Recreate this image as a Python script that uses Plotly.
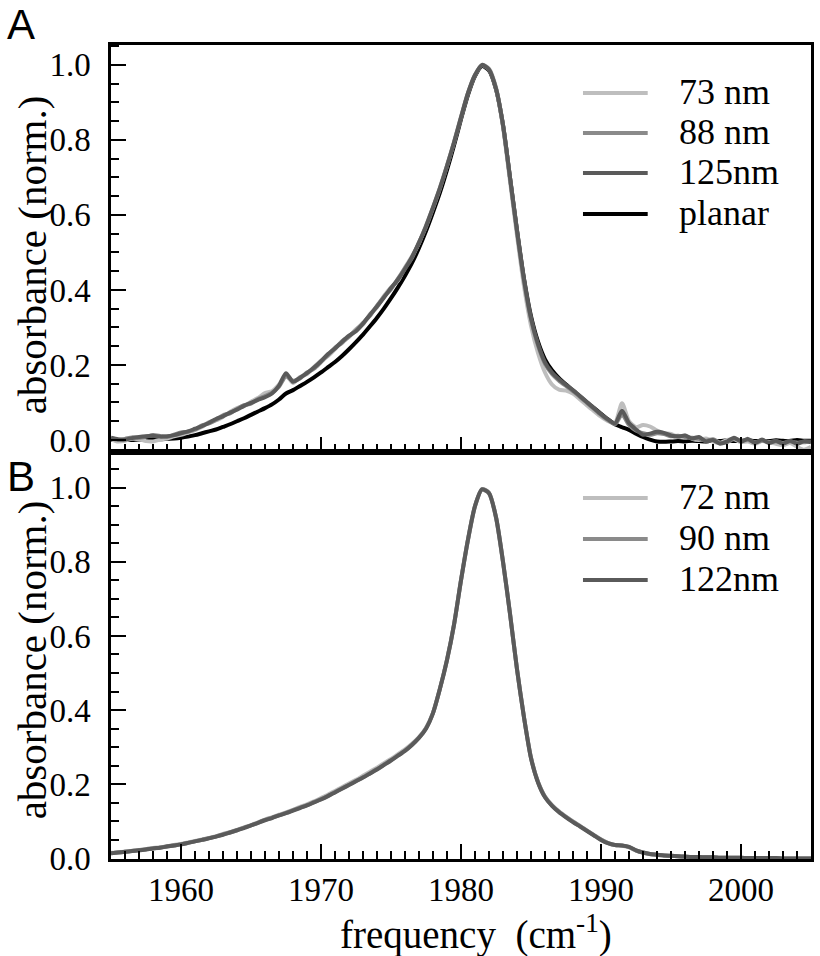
import plotly.graph_objects as go

# ---------------- data ----------------
FREQ = [
    1955.0, 1955.5, 1956.0, 1956.5, 1957.0, 1957.5, 1958.0, 1958.5, 1959.0, 1959.5,
    1960.0, 1960.5, 1961.0, 1961.5, 1962.0, 1962.5, 1963.0, 1963.5, 1964.0, 1964.5,
    1965.0, 1965.5, 1966.0, 1966.5, 1967.0, 1967.5, 1968.0, 1968.5, 1969.0, 1969.5,
    1970.0, 1970.5, 1971.0, 1971.5, 1972.0, 1972.5, 1973.0, 1973.5, 1974.0, 1974.5,
    1975.0, 1975.5, 1976.0, 1976.5, 1977.0, 1977.5, 1978.0, 1978.5, 1979.0, 1979.5,
    1980.0, 1980.5, 1981.0, 1981.5, 1982.0, 1982.5, 1983.0, 1983.5, 1984.0, 1984.5,
    1985.0, 1985.5, 1986.0, 1986.5, 1987.0, 1987.5, 1988.0, 1988.5, 1989.0, 1989.5,
    1990.0, 1990.5, 1991.0, 1991.5, 1992.0, 1992.5, 1993.0, 1993.5, 1994.0, 1994.5,
    1995.0, 1995.5, 1996.0, 1996.5, 1997.0, 1997.5, 1998.0, 1998.5, 1999.0, 1999.5,
    2000.0, 2000.5, 2001.0, 2001.5, 2002.0, 2002.5, 2003.0, 2003.5, 2004.0, 2004.5,
    2005.0,
]

# Panel A
A_PLANAR = [
    0.000, 0.000, 0.000, 0.000, 0.001, 0.001, 0.002, 0.002, 0.003, 0.004,
    0.006, 0.009, 0.013, 0.018, 0.023, 0.028, 0.035, 0.042, 0.050, 0.058,
    0.067, 0.076, 0.085, 0.095, 0.108, 0.124, 0.133, 0.144, 0.155, 0.167,
    0.180, 0.194, 0.208, 0.224, 0.242, 0.261, 0.281, 0.303, 0.326, 0.351,
    0.378, 0.407, 0.438, 0.472, 0.512, 0.557, 0.607, 0.660, 0.720, 0.785,
    0.855, 0.920, 0.970, 0.997, 0.985, 0.935, 0.840, 0.700, 0.560, 0.430,
    0.330, 0.262, 0.215, 0.186, 0.165, 0.148, 0.132, 0.116, 0.100, 0.085,
    0.070, 0.055, 0.042, 0.034, 0.027, 0.017, 0.008, 0.001, -0.004, -0.005,
    -0.004, -0.003, -0.004, -0.002, -0.003, -0.004, -0.002, -0.003, -0.001, -0.003,
    -0.002, -0.001, -0.003, -0.002, -0.003, -0.001, -0.002, -0.003, 0.000, -0.002,
    -0.002,
]
A_73NM = [
    0.002, -0.004, -0.002, 0.003, 0.002, -0.003, -0.004, 0.001, 0.004, 0.010,
    0.014, 0.020, 0.026, 0.035, 0.048, 0.052, 0.062, 0.075, 0.085, 0.090,
    0.102, 0.112, 0.125, 0.130, 0.148, 0.172, 0.152, 0.168, 0.176, 0.195,
    0.212, 0.224, 0.242, 0.264, 0.275, 0.295, 0.308, 0.336, 0.354, 0.384,
    0.407, 0.425, 0.460, 0.490, 0.525, 0.572, 0.620, 0.674, 0.732, 0.795,
    0.862, 0.926, 0.974, 1.000, 0.990, 0.940, 0.835, 0.690, 0.545, 0.410,
    0.305, 0.232, 0.180, 0.148, 0.134, 0.132, 0.124, 0.108, 0.092, 0.077,
    0.062, 0.050, 0.046, 0.098, 0.050, 0.034, 0.040, 0.036, 0.025, 0.018,
    0.016, 0.008, 0.012, 0.003, 0.000, 0.004, -0.004, -0.008, 0.000, 0.002,
    -0.006, -0.004, -0.010, -0.003, -0.006, -0.010, -0.014, -0.008, -0.018, -0.026,
    -0.018,
]
A_88NM = [
    0.004, 0.000, 0.003, 0.007, 0.006, 0.009, 0.013, 0.011, 0.008, 0.014,
    0.020, 0.022, 0.028, 0.039, 0.044, 0.054, 0.066, 0.071, 0.083, 0.093,
    0.097, 0.109, 0.117, 0.126, 0.142, 0.170, 0.158, 0.164, 0.180, 0.190,
    0.208, 0.226, 0.246, 0.259, 0.276, 0.293, 0.312, 0.331, 0.358, 0.382,
    0.402, 0.430, 0.458, 0.486, 0.527, 0.568, 0.618, 0.671, 0.731, 0.792,
    0.859, 0.924, 0.972, 0.999, 0.987, 0.936, 0.838, 0.698, 0.556, 0.425,
    0.322, 0.252, 0.203, 0.176, 0.158, 0.144, 0.130, 0.115, 0.099, 0.083,
    0.067, 0.053, 0.042, 0.068, 0.040, 0.025, 0.018, 0.014, 0.018, 0.016,
    0.010, 0.011, 0.008, 0.006, 0.003, -0.002, 0.002, -0.007, -0.006, 0.004,
    -0.002, 0.000, -0.006, -0.002, -0.005, -0.004, -0.008, -0.004, -0.007, -0.006,
    -0.004,
]
A_125NM = [
    0.006, 0.002, 0.001, 0.005, 0.008, 0.010, 0.011, 0.009, 0.010, 0.013,
    0.018, 0.023, 0.030, 0.037, 0.046, 0.056, 0.063, 0.073, 0.081, 0.091,
    0.099, 0.107, 0.114, 0.124, 0.145, 0.178, 0.155, 0.166, 0.178, 0.193,
    0.210, 0.229, 0.244, 0.262, 0.278, 0.290, 0.310, 0.334, 0.356, 0.380,
    0.405, 0.428, 0.456, 0.488, 0.526, 0.570, 0.620, 0.672, 0.730, 0.793,
    0.860, 0.925, 0.973, 1.000, 0.988, 0.937, 0.840, 0.700, 0.558, 0.428,
    0.325, 0.256, 0.207, 0.180, 0.162, 0.147, 0.133, 0.117, 0.101, 0.085,
    0.069, 0.055, 0.044, 0.078, 0.045, 0.028, 0.014, 0.017, 0.022, 0.019,
    0.012, 0.009, 0.012, 0.004, 0.008, -0.004, 0.000, -0.010, -0.004, 0.006,
    -0.004, 0.003, -0.008, 0.001, -0.008, -0.002, -0.010, -0.002, -0.010, -0.003,
    -0.006,
]

# Panel B
B_72NM = [
    0.015, 0.017, 0.018, 0.021, 0.023, 0.024, 0.028, 0.030, 0.032, 0.036,
    0.039, 0.043, 0.047, 0.051, 0.055, 0.060, 0.066, 0.071, 0.077, 0.084,
    0.090, 0.097, 0.105, 0.111, 0.118, 0.124, 0.131, 0.139, 0.146, 0.154,
    0.163, 0.172, 0.182, 0.192, 0.202, 0.212, 0.223, 0.234, 0.245, 0.257,
    0.268, 0.281, 0.294, 0.309, 0.327, 0.352, 0.393, 0.458, 0.534, 0.629,
    0.749, 0.858, 0.949, 0.994, 0.984, 0.918, 0.798, 0.658, 0.509, 0.380,
    0.271, 0.207, 0.167, 0.144, 0.127, 0.113, 0.100, 0.088, 0.075, 0.063,
    0.051, 0.042, 0.036, 0.034, 0.030, 0.021, 0.015, 0.011, 0.009, 0.008,
    0.007, 0.006, 0.005, 0.004, 0.004, 0.003, 0.003, 0.002, 0.002, 0.002,
    0.002, 0.001, 0.001, 0.001, 0.001, 0.001, 0.000, 0.000, 0.000, 0.000,
    0.000,
]
B_90NM = [
    0.014, 0.016, 0.018, 0.020, 0.022, 0.025, 0.027, 0.029, 0.033, 0.035,
    0.038, 0.042, 0.046, 0.050, 0.055, 0.059, 0.065, 0.070, 0.076, 0.083,
    0.089, 0.096, 0.104, 0.110, 0.116, 0.123, 0.130, 0.137, 0.144, 0.152,
    0.160, 0.169, 0.179, 0.189, 0.199, 0.209, 0.219, 0.230, 0.241, 0.253,
    0.265, 0.278, 0.291, 0.307, 0.326, 0.351, 0.392, 0.459, 0.536, 0.631,
    0.751, 0.861, 0.951, 0.996, 0.986, 0.921, 0.801, 0.661, 0.511, 0.381,
    0.272, 0.206, 0.166, 0.143, 0.126, 0.112, 0.099, 0.087, 0.075, 0.063,
    0.051, 0.041, 0.036, 0.035, 0.031, 0.022, 0.016, 0.012, 0.010, 0.008,
    0.007, 0.006, 0.005, 0.004, 0.004, 0.003, 0.003, 0.002, 0.002, 0.002,
    0.002, 0.001, 0.001, 0.001, 0.001, 0.001, 0.000, 0.000, 0.000, 0.000,
    0.000,
]
B_122NM = [
    0.014, 0.016, 0.018, 0.020, 0.022, 0.024, 0.027, 0.029, 0.032, 0.035,
    0.038, 0.042, 0.046, 0.050, 0.054, 0.059, 0.064, 0.070, 0.076, 0.082,
    0.089, 0.096, 0.103, 0.109, 0.116, 0.122, 0.129, 0.136, 0.143, 0.151,
    0.159, 0.168, 0.178, 0.188, 0.198, 0.208, 0.218, 0.229, 0.240, 0.252,
    0.264, 0.277, 0.290, 0.306, 0.325, 0.350, 0.392, 0.458, 0.535, 0.630,
    0.750, 0.860, 0.950, 0.995, 0.985, 0.920, 0.800, 0.660, 0.510, 0.380,
    0.270, 0.205, 0.165, 0.142, 0.125, 0.111, 0.098, 0.086, 0.074, 0.062,
    0.050, 0.041, 0.036, 0.035, 0.031, 0.022, 0.016, 0.012, 0.010, 0.008,
    0.007, 0.006, 0.005, 0.004, 0.004, 0.003, 0.003, 0.002, 0.002, 0.002,
    0.002, 0.001, 0.001, 0.001, 0.001, 0.001, 0.000, 0.000, 0.000, 0.000,
    0.000,
]

X_TICKS = [1960, 1970, 1980, 1990, 2000]
Y_TICKS = [0.0, 0.2, 0.4, 0.6, 0.8, 1.0]
Y_TICKTEXT = ["0.0", "0.2", "0.4", "0.6", "0.8", "1.0"]

A_LABELS = ["73 nm", "88 nm", "125nm", "planar"]
B_LABELS = ["72 nm", "90 nm", "122nm"]

C_LIGHT = "#bebebe"
C_MID = "#8a8a8a"
C_DARK = "#5a5a5a"
C_BLACK = "#000000"

A_SERIES = [A_73NM, A_88NM, A_125NM, A_PLANAR]
A_COLORS = [C_LIGHT, C_MID, C_DARK, C_BLACK]
B_SERIES = [B_72NM, B_90NM, B_122NM]
B_COLORS = [C_LIGHT, C_MID, C_DARK]

# ---------------- figure ----------------
SERIF = "Liberation Serif"
SANS = "Liberation Sans"
LW = 4

fig = go.Figure()

# planar drawn first (underneath), grey curves on top
draw_order_a = [3, 0, 1, 2]
for i in draw_order_a:
    fig.add_trace(go.Scatter(x=FREQ, y=A_SERIES[i], mode="lines", name=A_LABELS[i],
                             line=dict(color=A_COLORS[i], width=LW, shape="spline", smoothing=0.7),
                             xaxis="x", yaxis="y", showlegend=False))
for i in range(3):
    fig.add_trace(go.Scatter(x=FREQ, y=B_SERIES[i], mode="lines", name=B_LABELS[i],
                             line=dict(color=B_COLORS[i], width=LW, shape="spline", smoothing=0.7),
                             xaxis="x2", yaxis="y2", showlegend=False))

W, H = 820, 956
ML, MR, MT, MB = 111, 6, 45, 97
PW = W - ML - MR
PH = H - MT - MB


def px2x(px):
    return (px - ML) / PW


def py2y(py):
    return (H - MB - py) / PH


xcommon = dict(range=[1955, 2005], showgrid=False, zeroline=False,
               showline=True, linecolor="black", linewidth=2.5, mirror=True,
               ticks="inside", ticklen=15, tickwidth=2, tickcolor="black",
               tickmode="array", tickvals=X_TICKS, ticktext=[str(v) for v in X_TICKS],
               minor=dict(ticks="inside", ticklen=8, tickwidth=2, tickcolor="black",
                          dtick=1, tick0=1955, showgrid=False),
               tickfont=dict(family=SERIF, size=33, color="black"))
ycommon = dict(showgrid=False, zeroline=False,
               showline=True, linecolor="black", linewidth=2.5, mirror=True,
               ticks="inside", ticklen=15, tickwidth=2, tickcolor="black",
               tickmode="array", tickvals=Y_TICKS, ticktext=Y_TICKTEXT,
               minor=dict(ticks="inside", ticklen=8, tickwidth=2, tickcolor="black",
                          dtick=0.05, tick0=0, showgrid=False),
               tickfont=dict(family=SERIF, size=33, color="black"),
               ticklabelstandoff=11)

fig.update_layout(
    width=W, height=H,
    margin=dict(l=ML, r=MR, t=MT, b=MB),
    paper_bgcolor="white", plot_bgcolor="white",
    showlegend=False,
    font=dict(family=SERIF, color="black"),
    xaxis=dict(domain=[0, 1], anchor="y", showticklabels=False, **xcommon),
    xaxis2=dict(domain=[0, 1], anchor="y2", showticklabels=True,
                ticklabelstandoff=0, **xcommon),
    yaxis=dict(domain=[0.5, 1], anchor="x", range=[-0.032, 1.053], **ycommon),
    yaxis2=dict(domain=[0, 0.5], anchor="x2", range=[-0.0015, 1.096], **ycommon),
)

annotations = []
# y-axis titles
for ytxt_py in (255, 660):
    annotations.append(dict(text="absorbance (norm.)", x=px2x(32), y=py2y(ytxt_py),
                            xref="paper", yref="paper", xanchor="center", yanchor="middle",
                            textangle=-90, showarrow=False,
                            font=dict(family=SERIF, size=41, color="black")))
# x-axis title
annotations.append(dict(text="frequency  (cm<sup>-1</sup>)", x=px2x(478), y=py2y(932),
                        xref="paper", yref="paper", xanchor="center", yanchor="middle",
                        showarrow=False, font=dict(family=SERIF, size=39, color="black")))
# panel letters
annotations.append(dict(text="A", x=px2x(5), y=py2y(25), xref="paper", yref="paper",
                        xanchor="left", yanchor="middle", showarrow=False,
                        font=dict(family=SANS, size=42, color="black")))
annotations.append(dict(text="B", x=px2x(5), y=py2y(476), xref="paper", yref="paper",
                        xanchor="left", yanchor="middle", showarrow=False,
                        font=dict(family=SANS, size=42, color="black")))

shapes = []
A_ROWS = [93, 133, 173, 214]
B_ROWS = [498, 539, 580]
for lab, col, ry in zip(A_LABELS, A_COLORS, A_ROWS):
    shapes.append(dict(type="line", xref="paper", yref="paper",
                       x0=px2x(585), x1=px2x(650), y0=py2y(ry), y1=py2y(ry),
                       line=dict(color=col, width=LW)))
    annotations.append(dict(text=lab, x=px2x(679), y=py2y(ry - 1), xref="paper", yref="paper",
                            xanchor="left", yanchor="middle", showarrow=False,
                            font=dict(family=SERIF, size=36, color="black")))
for lab, col, ry in zip(B_LABELS, B_COLORS, B_ROWS):
    shapes.append(dict(type="line", xref="paper", yref="paper",
                       x0=px2x(585), x1=px2x(650), y0=py2y(ry), y1=py2y(ry),
                       line=dict(color=col, width=LW)))
    annotations.append(dict(text=lab, x=px2x(679), y=py2y(ry - 1), xref="paper", yref="paper",
                            xanchor="left", yanchor="middle", showarrow=False,
                            font=dict(family=SERIF, size=36, color="black")))

fig.update_layout(annotations=annotations, shapes=shapes)

fig.write_html("out.html", config={"displayModeBar": False},
               post_script="document.body.style.margin='0px';document.body.style.padding='0px';")
